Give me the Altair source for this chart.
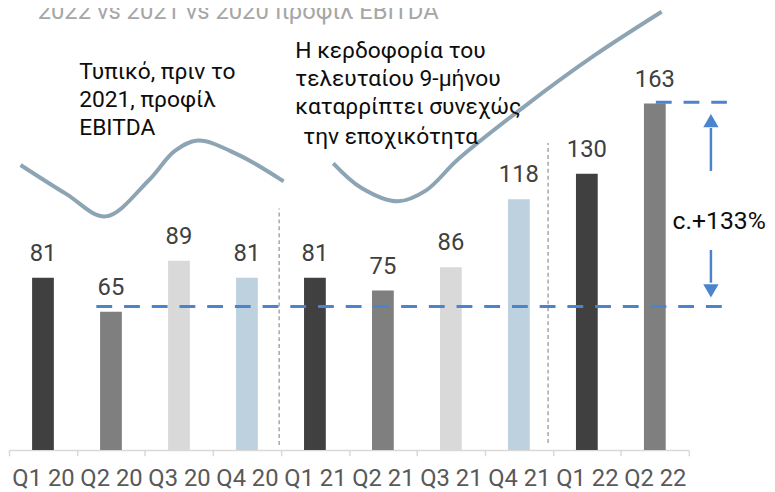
import altair as alt
import pandas as pd

# ---- data ----
categories = ["Q1 20", "Q2 20", "Q3 20", "Q4 20", "Q1 21", "Q2 21", "Q3 21", "Q4 21", "Q1 22", "Q2 22"]
values = [81, 65, 89, 81, 81, 75, 86, 118, 130, 163]
quarter_colors = {"Q1": "#404040", "Q2": "#7f7f7f", "Q3": "#d9d9d9", "Q4": "#bdd1df"}

title_text = "2022 vs 2021 vs 2020 προφίλ EBITDA"

# decorative seasonality curves (x in quarter units, y in value units)
curve1_x = [0.17, 0.84, 1.42, 2.05, 2.44, 2.78, 3.36, 4.04]
curve1_y = [134.1, 120.5, 109.9, 126.7, 140.7, 145.6, 139.1, 126.4]
curve2_x = [4.77, 5.18, 5.72, 6.13, 6.61, 7.58, 8.60, 9.60]
curve2_y = [134.9, 123.4, 117.0, 122.0, 136.9, 161.6, 185.4, 206.2]

# reference dashed levels
level_y = [67.5, 163.6]
level_x1 = [1.285, 9.515]
level_x2 = [10.50, 10.56]

# period separators
sep_x = [3.974, 7.93]
sep_y1 = [2.3, 3.3]
sep_y2 = [113.6, 144.4]

# growth arrows
arrow_x = [10.325, 10.325]
arrow_from = [131.3, 94.1]
arrow_to = [151.5, 78.7]
arrow_head_y = [155.0, 74.8]
arrow_shape = ["triangle-up", "triangle-down"]

growth_text = "c.+133%"
growth_x = 9.76
growth_y = 104.2

note1_lines = ["Τυπικό, πριν το", "2021, προφίλ", "EBITDA"]
note1_x = [1.033, 1.033, 1.033]
note1_y = [174.8, 161.2, 148.1]

note2_lines = ["Η κερδοφορία του", "τελευταίου 9-μήνου", "καταρρίπτει συνεχώς", "την εποχικότητα"]
note2_x = [4.211, 4.211, 4.211, 4.33]
note2_y = [184.6, 171.2, 157.9, 144.0]

title_x = 0.422
title_y = 202.6

# ---- frames ----
bars_df = pd.DataFrame({
    "quarter": categories,
    "value": values,
    "color": [quarter_colors[c.split()[0]] for c in categories],
})
curve_df = pd.DataFrame({
    "x": curve1_x + curve2_x,
    "y": curve1_y + curve2_y,
    "curve": ["a"] * len(curve1_x) + ["b"] * len(curve2_x),
    "order": list(range(len(curve1_x))) + list(range(len(curve2_x))),
})
level_df = pd.DataFrame({"x": level_x1, "x2": level_x2, "y": level_y})
sep_df = pd.DataFrame({"x": sep_x, "y": sep_y1, "y2": sep_y2})
shaft_df = pd.DataFrame({"x": arrow_x, "y": arrow_from, "y2": arrow_to})
head_df = pd.DataFrame({"x": arrow_x, "y": arrow_head_y, "shape": arrow_shape})
notes_df = pd.DataFrame({
    "x": note1_x + note2_x,
    "y": note1_y + note2_y,
    "t": note1_lines + note2_lines,
})
growth_df = pd.DataFrame({"x": [growth_x], "y": [growth_y], "t": [growth_text]})
title_df = pd.DataFrame({"x": [title_x], "y": [title_y], "t": [title_text]})

YMAX = 206.8
yscale = alt.Scale(domain=[0, YMAX], nice=False, zero=True)
xq = alt.Scale(domain=[0, 10], nice=False, zero=False)
band = alt.Scale(paddingInner=0, paddingOuter=0)

FONT = "Roboto"
BLUE = "#4b84cc"

bars = alt.Chart(bars_df).mark_bar(size=22).encode(
    x=alt.X("quarter:N", sort=categories, scale=band,
            axis=alt.Axis(title=None, labelFont=FONT, labelFontSize=24, labelColor="#595959",
                          labelAngle=0, labelPadding=30, labelBaseline="alphabetic",
                          labelOverlap=False, labelBound=False, labelFlush=False,
                          domainColor="#d9d9d9", domainWidth=1.5,
                          tickColor="#d9d9d9", tickWidth=1.5, tickSize=6, tickBand="extent")),
    y=alt.Y("value:Q", scale=yscale, axis=None),
    color=alt.Color("color:N", scale=None),
)

labels = alt.Chart(bars_df).mark_text(
    font=FONT, fontSize=24, color="#404040", baseline="alphabetic", align="center", dy=-17
).encode(
    x=alt.X("quarter:N", sort=categories, scale=band, axis=None),
    y=alt.Y("value:Q", scale=yscale, axis=None),
    text="value:Q",
)

curves = alt.Chart(curve_df).mark_line(
    interpolate="catmull-rom", color="#8ca4b3", strokeWidth=4, strokeCap="butt"
).encode(
    x=alt.X("x:Q", scale=xq, axis=None),
    y=alt.Y("y:Q", scale=yscale, axis=None),
    detail="curve:N",
    order="order:Q",
)

seps = alt.Chart(sep_df).mark_rule(color="#a6a6a6", strokeWidth=1.5, strokeDash=[4, 3]).encode(
    x=alt.X("x:Q", scale=xq, axis=None),
    y=alt.Y("y:Q", scale=yscale, axis=None),
    y2="y2:Q",
)

levels = alt.Chart(level_df).mark_rule(color=BLUE, strokeWidth=3, strokeDash=[16, 12]).encode(
    x=alt.X("x:Q", scale=xq, axis=None),
    x2="x2:Q",
    y=alt.Y("y:Q", scale=yscale, axis=None),
)

shafts = alt.Chart(shaft_df).mark_rule(color=BLUE, strokeWidth=2.5).encode(
    x=alt.X("x:Q", scale=xq, axis=None),
    y=alt.Y("y:Q", scale=yscale, axis=None),
    y2="y2:Q",
)

heads = alt.Chart(head_df).mark_point(filled=True, size=240, color=BLUE, opacity=1).encode(
    x=alt.X("x:Q", scale=xq, axis=None),
    y=alt.Y("y:Q", scale=yscale, axis=None),
    shape=alt.Shape("shape:N", scale=None),
)

notes = alt.Chart(notes_df).mark_text(
    font=FONT, fontSize=23, color="#0d0d0d", align="left", baseline="alphabetic"
).encode(
    x=alt.X("x:Q", scale=xq, axis=None),
    y=alt.Y("y:Q", scale=yscale, axis=None),
    text="t:N",
)

growth = alt.Chart(growth_df).mark_text(
    font=FONT, fontSize=25, color="#0d0d0d", align="left", baseline="alphabetic"
).encode(
    x=alt.X("x:Q", scale=xq, axis=None),
    y=alt.Y("y:Q", scale=yscale, axis=None),
    text="t:N",
)

title = alt.Chart(title_df).mark_text(
    font=FONT, fontSize=24, color="#a6a6a6", align="left", baseline="alphabetic"
).encode(
    x=alt.X("x:Q", scale=xq, axis=None),
    y=alt.Y("y:Q", scale=yscale, axis=None),
    text="t:N",
)

chart = alt.layer(
    bars, labels, curves, seps, levels, shafts, heads, notes, growth, title
).resolve_scale(x="independent").properties(
    width=687, height=444,
    padding={"left": 1, "top": 0, "right": 79, "bottom": 40},
    autosize=alt.AutoSizeParams(type="none"),
    background="white",
).configure_view(stroke=None)

chart.save("out.html", embed_options={"renderer": "svg", "actions": False})
